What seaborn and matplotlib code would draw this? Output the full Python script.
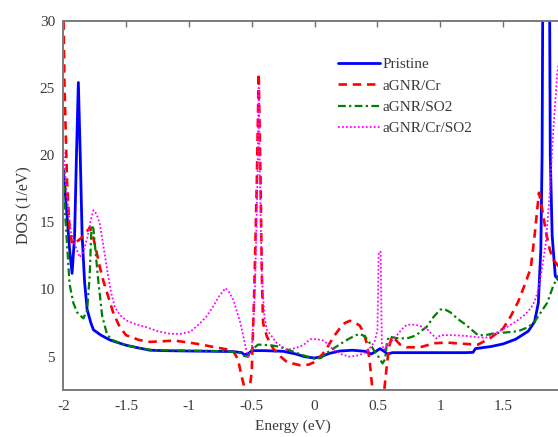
import matplotlib
matplotlib.use("Agg")
import matplotlib.pyplot as plt
import seaborn as sns
import pandas as pd

# ---------------- data ----------------
pristine_x = [-2.00, -1.97, -1.95, -1.93, -1.91, -1.895, -1.88, -1.865, -1.85, -1.83, -1.81, -1.78,
              -1.76, -1.70, -1.63, -1.55, -1.50, -1.40, -1.31, -1.20, -1.00, -0.80, -0.65, -0.58,
              -0.56, -0.53, -0.50, -0.40, -0.25, -0.15, -0.08, 0.00, 0.05, 0.12, 0.20, 0.30, 0.40,
              0.45, 0.48, 0.52, 0.56, 0.58, 0.62, 0.80, 1.00, 1.20, 1.26, 1.28, 1.40, 1.50, 1.60,
              1.70, 1.75, 1.78, 1.80, 1.81, 1.815, 1.87, 1.875, 1.89, 1.915, 1.96]
pristine_y = [19.0, 15.5, 13.0, 11.2, 14.0, 20.0, 25.4, 20.0, 14.0, 10.5, 8.5, 7.5,
              7.0, 6.6, 6.25, 6.0, 5.85, 5.65, 5.48, 5.45, 5.42, 5.40, 5.38, 5.30,
              5.15, 5.20, 5.45, 5.45, 5.40, 5.20, 5.00, 4.90, 5.00, 5.25, 5.42, 5.48, 5.40,
              5.20, 5.35, 5.60, 5.35, 5.20, 5.30, 5.30, 5.30, 5.30, 5.32, 5.60, 5.75, 5.95, 6.30,
              6.90, 7.60, 9.00, 13.0, 20.0, 31.0, 31.0, 20.0, 14.0, 11.0, 10.5]

cr_x = [-2.00, -1.99, -1.97, -1.95, -1.93, -1.90, -1.86, -1.82, -1.79, -1.77, -1.74, -1.71,
        -1.68, -1.65, -1.60, -1.55, -1.50, -1.40, -1.31, -1.20, -1.12, -1.00, -0.90, -0.81,
        -0.70, -0.65, -0.61, -0.58, -0.55, -0.52, -0.50, -0.48, -0.46, -0.445, -0.43, -0.42,
        -0.41, -0.38, -0.33, -0.27, -0.22, -0.12, -0.05, 0.00, 0.045, 0.09, 0.12, 0.16, 0.20,
        0.24, 0.28, 0.32, 0.36, 0.39, 0.415, 0.43, 0.44, 0.455, 0.47, 0.52, 0.555, 0.565,
        0.58, 0.595, 0.615, 0.64, 0.68, 0.73, 0.84, 0.95, 1.05, 1.20, 1.30, 1.40, 1.50, 1.56,
        1.62, 1.67, 1.72, 1.75, 1.785, 1.81, 1.84, 1.87, 1.90, 1.96]
cr_y = [31.0, 25.0, 18.0, 14.5, 13.4, 13.5, 13.8, 14.2, 14.6, 14.2, 13.0, 11.7,
        10.6, 9.7, 8.2, 7.2, 6.6, 6.25, 6.1, 6.15, 6.2, 6.05, 5.9, 5.73,
        5.55, 5.45, 4.8, 3.5, 2.4, 2.3, 4.0, 10.0, 18.0, 26.1, 18.0, 11.0,
        7.5, 6.5, 5.6, 5.0, 4.6, 4.37, 4.4, 4.6, 5.0, 5.5, 6.0, 6.6, 7.1,
        7.5, 7.67, 7.55, 7.3, 6.8, 6.0, 5.2, 4.5, 3.0, 2.3, 2.3, 2.6, 3.5,
        4.8, 5.8, 6.5, 6.3, 5.9, 5.7, 5.7, 6.0, 6.05, 5.95, 5.9, 6.4, 7.1, 8.0,
        9.1, 10.3, 11.6, 14.0, 17.2, 16.0, 14.3, 13.0, 12.2, 11.5]

so2_x = [-2.00, -1.985, -1.97, -1.95, -1.92, -1.89, -1.84, -1.81, -1.79, -1.775, -1.76, -1.74,
         -1.72, -1.69, -1.65, -1.60, -1.50, -1.40, -1.30, -1.00, -0.70, -0.60, -0.56, -0.53,
         -0.50, -0.45, -0.35, -0.275, -0.15, -0.09, 0.00, 0.05, 0.10, 0.17, 0.23, 0.28, 0.33,
         0.36, 0.40, 0.44, 0.47, 0.495, 0.52, 0.54, 0.56, 0.575, 0.59, 0.64, 0.68, 0.75, 0.81,
         0.86, 0.89, 0.95, 1.00, 1.03, 1.08, 1.14, 1.20, 1.25, 1.30, 1.36, 1.43, 1.52, 1.62,
         1.70, 1.75, 1.80, 1.85, 1.90, 1.96]
so2_y = [19.0, 15.5, 13.4, 10.4, 9.0, 8.3, 7.85, 8.5, 11.0, 14.8, 14.5, 12.5,
         10.5, 8.0, 6.6, 6.2, 5.85, 5.65, 5.5, 5.45, 5.4, 5.3, 5.05, 5.0,
         5.5, 5.9, 5.85, 5.73, 5.3, 5.1, 4.85, 4.9, 5.3, 5.73, 6.1, 6.37, 6.6,
         6.7, 6.5, 6.0, 5.5, 5.2, 4.8, 4.5, 4.8, 6.0, 6.5, 6.4, 6.35, 6.4, 6.6,
         7.0, 7.2, 8.0, 8.5, 8.55, 8.3, 7.8, 7.4, 7.0, 6.6, 6.6, 6.75, 6.8, 6.9,
         7.2, 7.6, 8.3, 9.0, 10.3, 11.4]

crso2_x = [-2.00, -1.98, -1.96, -1.94, -1.91, -1.87, -1.84, -1.81, -1.78, -1.76, -1.735, -1.71,
           -1.68, -1.65, -1.62, -1.59, -1.55, -1.50, -1.42, -1.34, -1.25, -1.15, -1.07, -0.99,
           -0.91, -0.86, -0.81, -0.76, -0.71, -0.68, -0.645, -0.62, -0.59, -0.55, -0.53, -0.50,
           -0.475, -0.455, -0.445, -0.435, -0.42, -0.40, -0.38, -0.30, -0.22, -0.15, -0.09,
           -0.035, 0.017, 0.07, 0.11, 0.15, 0.22, 0.28, 0.35, 0.415, 0.46, 0.48, 0.50, 0.51,
           0.525, 0.535, 0.55, 0.575, 0.615, 0.655, 0.69, 0.73, 0.77, 0.81, 0.85, 0.89, 0.93,
           0.97, 1.00, 1.10, 1.20, 1.30, 1.36, 1.45, 1.51, 1.60, 1.67, 1.72, 1.75, 1.78, 1.81,
           1.84, 1.87, 1.90, 1.93, 1.96]
crso2_y = [20.5, 18.0, 15.9, 14.3, 13.4, 12.4, 12.8, 13.8, 15.2, 15.9, 15.6, 14.9,
           13.2, 11.4, 9.8, 8.7, 8.1, 7.7, 7.4, 7.2, 6.9, 6.7, 6.7, 6.85,
           7.5, 8.0, 8.7, 9.5, 10.1, 9.8, 9.2, 8.4, 7.5, 5.73, 5.0, 5.5,
           10.0, 18.0, 25.0, 18.0, 11.0, 8.0, 7.0, 6.0, 5.5, 5.65, 5.86,
           6.3, 6.3, 6.2, 5.9, 5.5, 5.15, 5.0, 5.1, 5.36, 5.9, 6.2, 7.0, 12.8,
           12.8, 6.0, 5.5, 5.86, 6.2, 6.6, 7.0, 7.35, 7.4, 7.35, 7.25, 7.1, 6.7,
           6.35, 6.6, 6.6, 6.55, 6.45, 6.4, 6.8, 7.1, 7.6, 8.1, 8.6, 9.1, 10.0, 11.6,
           13.5, 17.0, 22.0, 26.0, 28.0]

series_names = ["Pristine", "aGNR/Cr", "aGNR/SO2", "aGNR/Cr/SO2"]
x_ticks = [-2, -1.5, -1, -0.5, 0, 0.5, 1, 1.5, 2]
x_tick_labels = ["-2", "-1.5", "-1", "-0.5", "0", "0.5", "1", "1.5", "2"]
y_ticks = [5, 10, 15, 20, 25, 30]

# ---------------- style ----------------
sns.set_theme(style="white")
plt.rcParams["font.family"] = ["Liberation Serif", "DejaVu Serif"]
plt.rcParams["axes.unicode_minus"] = False

fig = plt.figure(figsize=(5.58, 4.37), dpi=100)
ax = fig.add_axes([0.1134, 0.1069, 0.9009, 0.8458])

styles = [
    dict(color="#0000FF", linestyle="-", linewidth=2.0),
    dict(color="#FF0000", linestyle=(0, (3.2, 2.2)), linewidth=1.9),
    dict(color="#008000", linestyle=(0, (3.5, 1.5, 1.0, 1.5)), linewidth=1.6),
    dict(color="#FF00FF", linestyle=(0, (1.0, 1.2)), linewidth=1.3),
]
xs = [pristine_x, cr_x, so2_x, crso2_x]
ys = [pristine_y, cr_y, so2_y, crso2_y]

for name, x, y, st in zip(series_names, xs, ys, styles):
    df = pd.DataFrame({"Energy": x, "DOS": y})
    sns.lineplot(data=df, x="Energy", y="DOS", sort=False, estimator=None,
                 ax=ax, label=name, **st)

ax.set_xlim(-2, 2)
ax.set_ylim(2.5, 30)
ax.set_xticks(x_ticks)
ax.set_xticklabels(x_tick_labels)
ax.set_yticks(y_ticks)

tick_color = "#3a3a3a"
ax.tick_params(axis="both", direction="in", length=4, width=1, colors="#707070",
               labelcolor=tick_color, labelsize=11, top=True, right=True)
ax.tick_params(axis="x", pad=7)
ax.tick_params(axis="y", pad=6)
for sp in ax.spines.values():
    sp.set_color("#7a7a7a")
    sp.set_linewidth(1.4)

ax.set_xlabel("Energy (eV)", fontsize=11, color=tick_color)
ax.set_ylabel("DOS (1/eV)", fontsize=11.5, color=tick_color)
ax.xaxis.set_label_coords(0.457, -0.079)
ax.yaxis.set_label_coords(-0.062, 0.5)

ax.legend(loc="upper left", bbox_to_anchor=(0.546, 0.90), frameon=False,
          fontsize=11, handlelength=2.75, handletextpad=0.15, labelspacing=0.5,
          borderpad=0, borderaxespad=0, labelcolor=tick_color)

fig.savefig("out.png", dpi=100)
